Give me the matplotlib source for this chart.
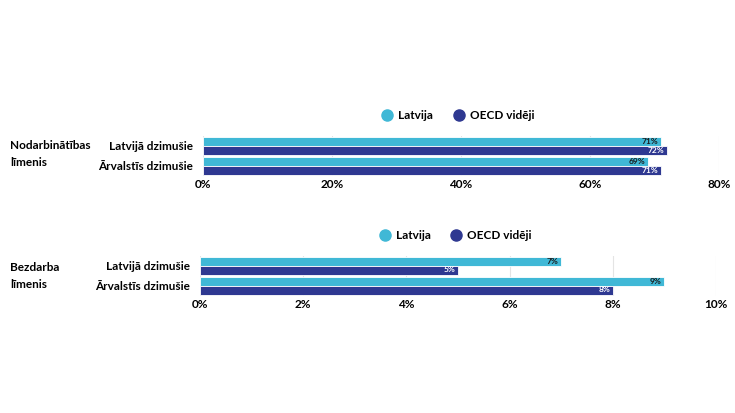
import matplotlib
matplotlib.use("Agg")
import matplotlib.pyplot as plt
from matplotlib.lines import Line2D

# data
categories = ["Latvijā dzimušie", "Ārvalstīs dzimušie"]
series_names = ["Latvija", "OECD vidēji"]
employment_lv = [71, 69]
employment_oecd = [72, 71]
unemployment_lv = [7, 9]
unemployment_oecd = [5, 8]
employment_ticks = [0, 20, 40, 60, 80]
unemployment_ticks = [0, 2, 4, 6, 8, 10]
group_labels = ["Nodarbinātības\nlīmenis", "Bezdarba\nlīmenis"]

CYAN = "#40B8D6"
NAVY = "#2E3891"
plt.rcParams['font.family'] = ['Lato', 'DejaVu Sans']

fig = plt.figure(figsize=(7.35, 4.13), dpi=100)
fig.patch.set_facecolor("white")


def draw_panel(ax, lv, oecd, ticks, legend_pos):
    ys = list(range(len(categories)))
    h = 0.45
    ax.barh([y - h / 2 for y in ys], lv, height=h, color=CYAN,
            edgecolor="white", linewidth=0.6, zorder=3)
    ax.barh([y + h / 2 for y in ys], oecd, height=h, color=NAVY,
            edgecolor="white", linewidth=0.6, zorder=3)
    for y, v in zip(ys, lv):
        ax.annotate(f"{v}%", xy=(v, y - h / 2), xytext=(-2, 0),
                    textcoords="offset points", ha="right", va="center",
                    fontsize=6, fontweight="bold", color="#1a1a1a", zorder=4)
    for y, v in zip(ys, oecd):
        ax.annotate(f"{v}%", xy=(v, y + h / 2), xytext=(-2, 0),
                    textcoords="offset points", ha="right", va="center",
                    fontsize=6, fontweight="bold", color="white", zorder=4)
    ax.set_xlim(ticks[0], ticks[-1])
    ax.set_ylim(1.5, -0.5)
    ax.set_xticks(ticks)
    ax.set_xticklabels([f"{t}%" for t in ticks], fontsize=8.5, fontweight="bold")
    ax.set_yticks(ys)
    ax.set_yticklabels(categories, fontsize=8.5, fontweight="bold")
    ax.tick_params(axis="x", length=0, pad=2.5)
    ax.tick_params(axis="y", length=0, pad=7)
    ax.grid(axis="x", color="#e4e4e4", linewidth=0.8, zorder=0)
    for s in ax.spines.values():
        s.set_visible(False)
    handles = [Line2D([], [], marker="o", linestyle="", markersize=8,
                      color=c) for c in (CYAN, NAVY)]
    ax.legend(handles, series_names, loc="center", bbox_to_anchor=legend_pos,
              ncol=2, frameon=False, handlelength=0.8, handletextpad=0.5,
              columnspacing=1.8, prop={"size": 8.5, "weight": "bold"})


ax1 = fig.add_axes([203 / 735, 1 - 176 / 413, 516 / 735, 40 / 413])
draw_panel(ax1, employment_lv, employment_oecd, employment_ticks, (0.495, 1.52))
ax2 = fig.add_axes([200 / 735, 1 - 295.5 / 413, 516 / 735, 40 / 413])
draw_panel(ax2, unemployment_lv, unemployment_oecd, unemployment_ticks, (0.496, 1.49))

fig.text(10 / 735, 1 - 154 / 413, group_labels[0], fontsize=8.5,
         fontweight="bold", va="center", ha="left", linespacing=1.6)
fig.text(10 / 735, 1 - 276 / 413, group_labels[1], fontsize=8.5,
         fontweight="bold", va="center", ha="left", linespacing=1.6)

fig.savefig("out.png", dpi=100, facecolor="white")
